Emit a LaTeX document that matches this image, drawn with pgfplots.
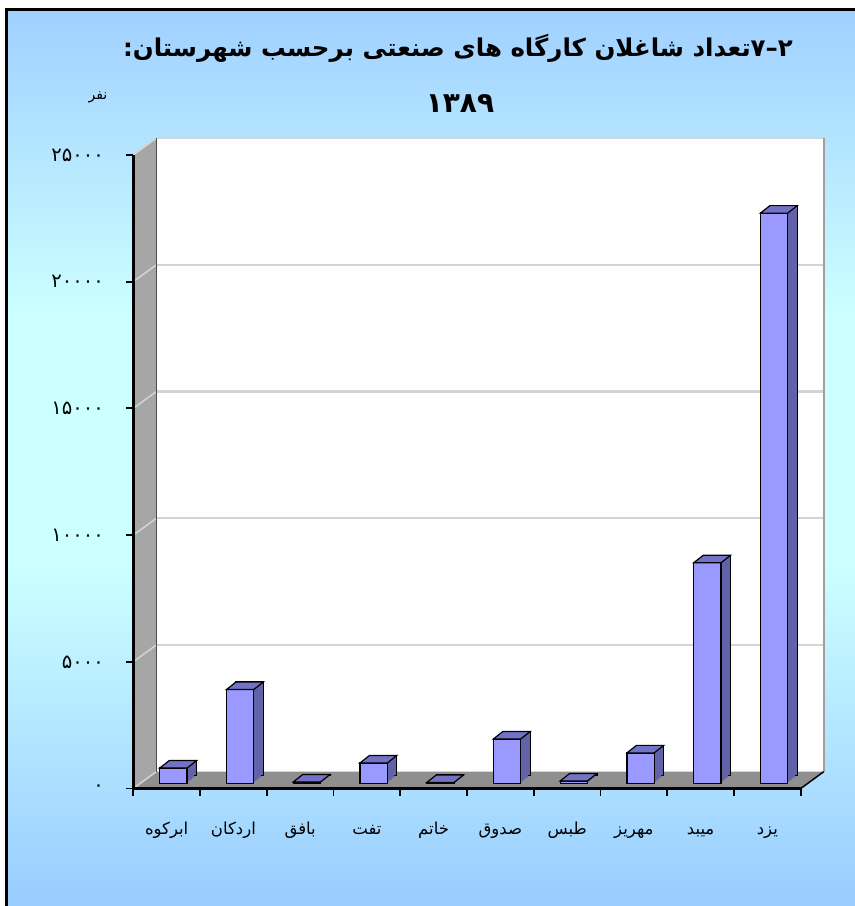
\documentclass[border=0pt]{standalone}
\usepackage{fontspec}
\usepackage{pgfplots}
\usepackage{pgfplotstable}
\pgfplotsset{compat=1.18}
\TeXXeTstate=1
\newfontfamily\fafont[Script=Arabic]{DejaVu Sans}
\definecolor{bgtop}{RGB}{160,208,255}
\definecolor{bgmid}{RGB}{204,255,255}
\definecolor{bgbot}{RGB}{153,204,255}
\definecolor{barfront}{RGB}{153,153,255}
\definecolor{bartop}{RGB}{115,115,198}
\definecolor{barside}{RGB}{98,98,168}
\definecolor{wallside}{RGB}{166,166,166}
\definecolor{floorc}{RGB}{143,143,143}
\definecolor{gridc}{RGB}{212,212,212}
\pgfdeclareverticalshading{bgshade}{100bp}{color(0bp)=(bgbot); color(25bp)=(bgbot); color(44bp)=(bgmid); color(58bp)=(bgmid); color(75bp)=(bgtop); color(100bp)=(bgtop)}
\pgfdeclareplotmark{topface}{%
  \pgfpathmoveto{\pgfpoint{-13.65pt}{0pt}}%
  \pgfpathlineto{\pgfpoint{13.65pt}{0pt}}%
  \pgfpathlineto{\pgfpoint{23.15pt}{7.5pt}}%
  \pgfpathlineto{\pgfpoint{-4.15pt}{7.5pt}}%
  \pgfpathclose
  \pgfusepathqfillstroke}
\pgfplotstableread{
x y
0 600
1 3700
2 50
3 800
4 30
5 1750
6 90
7 1200
8 8700
9 22500
}\datatable
\begin{document}
\begin{tikzpicture}[x=1pt,y=1pt]
\useasboundingbox (0,0) rectangle (855,906);
\shade[shading=bgshade] (6,0) rectangle (858,896);
\draw[black, line width=3pt] (6,-5) -- (6,896) -- (862,896);
% back wall
\begin{axis}[at={(156.3pt,134.3pt)}, anchor=south west, scale only axis,
  width=667.4pt, height=633.5pt, xmin=-0.5, xmax=9.5, ymin=0, ymax=25000,
  scaled y ticks=false,
  axis background/.style={fill=white},
  ytick={5000,10000,15000,20000}, xtick=\empty, yticklabels={},
  ymajorgrids, grid style={draw=gridc, line width=2.2pt},
  major tick length=0pt, axis line style={draw=none}, clip=false]
\addplot[draw=none] coordinates {(0,0)};
\draw[gridc, line width=2.5pt] (rel axis cs:0,1) -- (rel axis cs:1,1);
\draw[gray!75, line width=2pt] (rel axis cs:1,1) -- (rel axis cs:1,0);
\end{axis}
% side wall and floor
\fill[wallside] (133.3,117.5) -- (133.3,751) -- (156.3,767.8) -- (156.3,134.3) -- cycle;
\fill[floorc] (133.3,117.5) -- (800.7,117.5) -- (823.7,134.3) -- (156.3,134.3) -- cycle;
\foreach \k in {0,...,5} {
  \draw[gridc, line width=1.5pt] (133.3,117.5+\k*126.7) -- (156.3,134.3+\k*126.7);
}
\draw[gray!60!black, line width=1.2pt] (156.3,134.3) -- (156.3,767.8);
\draw[black, line width=1.5pt] (800.7,117.5) -- (823.7,134.3);
% front axis + bars
\begin{axis}[at={(133.3pt,117.5pt)}, anchor=south west, scale only axis,
  width=667.4pt, height=633.5pt, xmin=-0.5, xmax=9.5, ymin=0, ymax=25000,
  scaled y ticks=false,
  axis lines=left, axis line style={-, black, line width=2.5pt},
  tick align=outside, major tick length=7pt,
  tick style={black, line width=1.8pt},
  ytick={0,5000,10000,15000,20000,25000},
  yticklabels={۰,۵۰۰۰,۱۰۰۰۰,۱۵۰۰۰,۲۰۰۰۰,۲۵۰۰۰},
  yticklabel style={font=\fafont\fontsize{19.5}{19.5}\selectfont, xshift=-19pt},
  xtick={-0.5,0.5,...,9.5}, xticklabels={},
  extra x ticks={0,1,2,3,4,5,6,7,8,9},
  extra x tick labels={ابرکوه,اردکان,بافق,تفت,خاتم,صدوق,طبس,مهریز,میبد,یزد},
  extra x tick style={major tick length=0pt, xticklabel style={font=\fafont\fontsize{16.5}{16.5}\selectfont, anchor=base, yshift=-45.5pt}},
  clip=false]
\addplot[ybar, bar shift=0pt, bar width=27.3pt, fill=barside, draw=black, line width=1.2pt, xshift=16.2pt, yshift=12.7pt] table {\datatable};
\addplot[ybar, bar shift=0pt, bar width=27.3pt, fill=barside, draw=none, xshift=13.8pt, yshift=10.8pt] table {\datatable};
\addplot[ybar, bar shift=0pt, bar width=27.3pt, fill=barside, draw=none, xshift=11.45pt, yshift=8.95pt] table {\datatable};
\addplot[ybar, bar shift=0pt, bar width=27.3pt, fill=barside, draw=none, xshift=9.1pt, yshift=7.1pt] table {\datatable};
\addplot[only marks, mark=topface, mark options={fill=bartop, draw=black, line width=1.2pt}, xshift=6.7pt, yshift=5.2pt] table {\datatable};
\addplot[ybar, bar shift=0pt, bar width=27.3pt, fill=barfront, draw=black, line width=1.3pt, xshift=6.7pt, yshift=5.2pt] table {\datatable};
\end{axis}
% texts
\node[font=\fafont\bfseries\fontsize{24.5}{30}\selectfont] at (458,858) {\beginR\beginL۷\kern0pt–\kern0pt۲\endL تعداد شاغلان کارگاه های صنعتی برحسب شهرستان:\endR};
\node[font=\fafont\bfseries\fontsize{28}{30}\selectfont] at (460,802) {۱۳۸۹};
\node[font=\fafont\fontsize{14}{14}\selectfont] at (98,809) {\beginR نفر\endR};
\end{tikzpicture}
\end{document}
